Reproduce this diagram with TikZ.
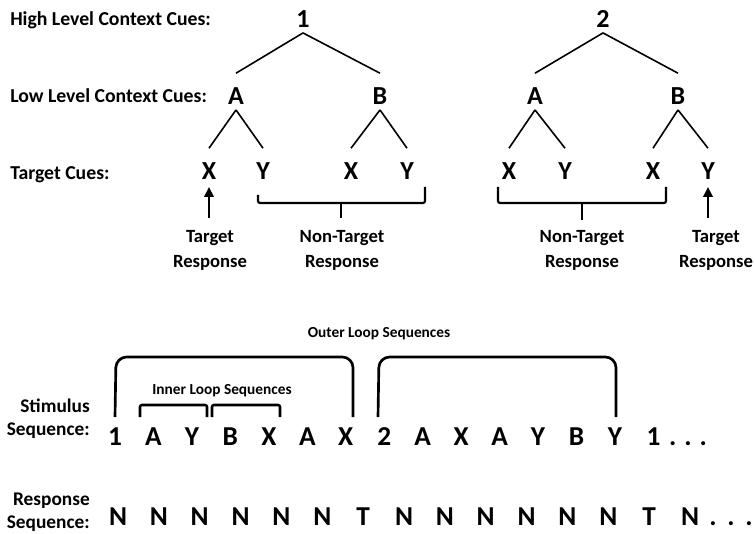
\documentclass[tikz,border=0pt]{standalone}
\usepackage{fontspec}
\setmainfont{Carlito}
\usetikzlibrary{arrows.meta,calc}

\tikzset{
  rowlabel/.style={font=\fontsize{14.8}{16}\selectfont\bfseries, anchor=base west, inner sep=0pt},
  cue/.style={font=\fontsize{19.5}{20}\selectfont\bfseries, anchor=base, inner sep=0pt},
  seqitem/.style={font=\fontsize{20.5}{22}\selectfont\bfseries, anchor=base, inner sep=0pt},
  resplabel/.style={font=\fontsize{14}{18.75}\selectfont\bfseries, align=center, anchor=north, inner sep=0pt},
  looplabel/.style={font=\fontsize{11.5}{13}\selectfont\bfseries, anchor=base, inner sep=0pt},
  seqlabel/.style={font=\fontsize{14.5}{16.8}\selectfont\bfseries, align=right, anchor=base east, inner sep=0pt},
  branch/.style={line width=1.2pt},
  bracebar/.style={line width=1.6pt, rounded corners=1.5pt},
  outerloop/.style={line width=2pt, rounded corners=8pt},
  innerloop/.style={line width=1.9pt, rounded corners=1.5pt},
  uparrow/.style={line width=1.7pt, -{Triangle[width=7pt,length=7.5pt]}},
}

\begin{document}
\begin{tikzpicture}[x=0.75pt,y=-0.75pt]
\useasboundingbox (0,0) rectangle (755,534);

% row labels
\node[rowlabel] (hl) at (10,26) {High Level Context Cues:};
\node[rowlabel] (ll) at (10,103) {Low Level Context Cues:};
\node[rowlabel] (tc) at (10,180) {Target Cues:};

% first tree
\node[cue] (r1) at (303,28) {1};
\node[cue] (a1) at (236,105) {A};
\node[cue] (b1) at (380,105) {B};
\node[cue] (x1) at (209,180) {X};
\node[cue] (y1) at (263,180) {Y};
\node[cue] (x2) at (351,180) {X};
\node[cue] (y2) at (407,180) {Y};

% second tree
\node[cue] (r2) at (603,28) {2};
\node[cue] (a2) at (535,105) {A};
\node[cue] (b2) at (678,105) {B};
\node[cue] (x3) at (509,180) {X};
\node[cue] (y3) at (565,180) {Y};
\node[cue] (x4) at (653,180) {X};
\node[cue] (y4) at (708,180) {Y};

\foreach \p/\c in {r1/a1,r1/b1,a1/x1,a1/y1,b1/x2,b1/y2,r2/a2,r2/b2,a2/x3,a2/y3,b2/x4,b2/y4}
  \draw[branch] ([yshift=-3.5pt]\p.south) -- ([yshift=11pt]\c.north);

% response labels
\node[resplabel] (tr1) at (210,230.2) {Target\\Response};
\node[resplabel] (nt1) at (342,230.2) {Non-Target\\Response};
\node[resplabel] (nt2) at (582,230.2) {Non-Target\\Response};
\node[resplabel] (tr2) at (716,230.2) {Target\\Response};

% braces over the non-target cues
\draw[bracebar] (258,195) -- (258,203) -- (425,203) -- (425,187);
\draw[bracebar] (341,203) -- (341,218);
\draw[bracebar] (498,187) -- (498,203) -- (666,203) -- (666,187);
\draw[bracebar] (582,203) -- (582,220);

% arrows to the target cues
\draw[uparrow] ([yshift=9.3pt]x1.south |- tr1.north) -- ([yshift=-5pt]x1.south);
\draw[uparrow] ([yshift=9.3pt]y4.south |- tr2.north) -- ([yshift=-5pt]y4.south);

% loop sequences
\node[looplabel] (outer) at (379,337) {Outer Loop Sequences};
\node[looplabel] (inner) at (222,394) {Inner Loop Sequences};

\draw[outerloop] (115,417) -- (116,357) -- (353,357) -- (353,417);
\draw[outerloop] (378,417) -- (379,357) -- (616,357) -- (616,417);
\draw[innerloop] (140,417) -- (140,405) -- (207,405) -- (207,417);
\draw[innerloop] (212,417) -- (212,405) -- (280,405) -- (280,417);

% stimulus sequence
\node[seqlabel] (stim) at (90,435) {Stimulus\\Sequence:};
\foreach \t [count=\i] in {1,A,Y,B,X,A,X,2,A,X,A,Y,B,Y,1}
  \node[seqitem] (s\i) at ({115+38.46*(\i-1)},445) {\t};
\node[seqitem] (sdots) at (688,445) {.\hspace{6pt}.\hspace{6pt}.};

% response sequence
\node[seqlabel] (resp) at (90,528) {Response\\Sequence:};
\foreach \t [count=\i] in {N,N,N,N,N,N,T,N,N,N,N,N,N,T,N}
  \node[seqitem] (n\i) at ({118+40.86*(\i-1)},525) {\t};
\node[seqitem] (ndots) at (731,525) {.\hspace{8pt}.\hspace{8pt}.};
\end{tikzpicture}
\end{document}
